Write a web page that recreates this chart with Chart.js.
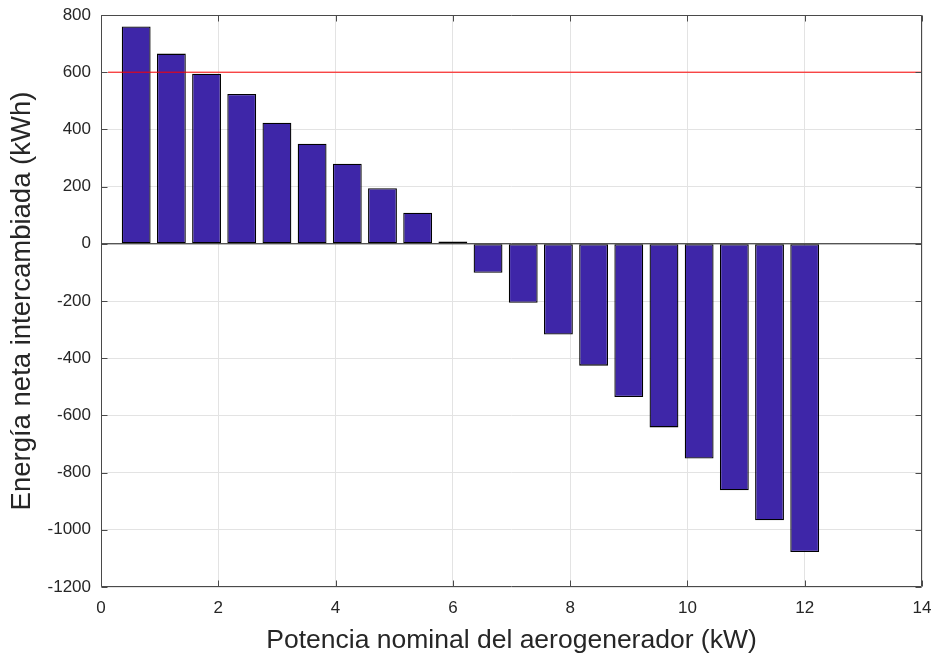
<!DOCTYPE html>
<html lang="es">
<head>
  <meta charset="UTF-8">
  <title>Energía neta intercambiada</title>
  <script src="https://cdn.jsdelivr.net/npm/chart.js"></script>
  <style>
    body {
      margin: 0;
      background-color: #ffffff;
    }
  </style>
</head>
<body>
  <canvas id="energiaChart" width="934" height="657"></canvas>

  <script>
    // Potencia nominal (kW) y energia neta (kWh)
    const potencia = [0.6, 1.2, 1.8, 2.4, 3.0, 3.6, 4.2, 4.8, 5.4, 6.0,
                      6.6, 7.2, 7.8, 8.4, 9.0, 9.6, 10.2, 10.8, 11.4, 12.0];
    const energia = [760, 665, 595, 524, 423, 350, 280, 194, 109, 8,
                     -101, -206, -317, -426, -536, -642, -751, -862, -967, -1078];

    // Linea roja de referencia
    const limite = 600;
    const limiteDesde = 0.12;

    const xTicks = [0, 2, 4, 6, 8, 10, 12, 14];
    const yTicks = [-1200, -1000, -800, -600, -400, -200, 0, 200, 400, 600, 800];

    const textColor = "#262626";
    const fontFamily = "Arial, 'Liberation Sans', Helvetica, sans-serif";

    // caja de ejes con marcas hacia dentro (estilo MATLAB)
    const marcoPlugin = {
      id: "marco",
      afterDatasetsDraw(chart) {
        const { ctx, chartArea, scales } = chart;
        const l = Math.round(chartArea.left) + 0.5;
        const r = Math.round(chartArea.right) - 0.5;
        const t = Math.round(chartArea.top) + 0.5;
        const b = Math.round(chartArea.bottom) - 0.5;
        const len = 6;
        ctx.save();
        ctx.strokeStyle = "#4a4a4a";
        ctx.lineWidth = 1;
        ctx.beginPath();
        ctx.rect(l, t, r - l, b - t);
        xTicks.forEach(v => {
          const px = Math.round(scales.x.getPixelForValue(v)) + 0.5;
          ctx.moveTo(px, b);
          ctx.lineTo(px, b - len);
          ctx.moveTo(px, t);
          ctx.lineTo(px, t + len);
        });
        yTicks.forEach(v => {
          const py = Math.round(scales.y.getPixelForValue(v)) + 0.5;
          ctx.moveTo(l, py);
          ctx.lineTo(l + len, py);
          ctx.moveTo(r, py);
          ctx.lineTo(r - len, py);
        });
        ctx.stroke();
        ctx.restore();
      }
    };

    new Chart(document.getElementById("energiaChart"), {
      type: "bar",
      data: {
        datasets: [
          {
            type: "line",
            data: [{ x: limiteDesde, y: limite }, { x: 14, y: limite }],
            borderColor: "#ff0000",
            borderWidth: 1,
            pointRadius: 0,
            order: 0
          },
          {
            type: "line",
            data: [{ x: 0, y: 0 }, { x: 14, y: 0 }],
            borderColor: "#1a1a1a",
            borderWidth: 1,
            pointRadius: 0,
            order: 1
          },
          {
            type: "bar",
            data: potencia.map((p, i) => ({ x: p, y: energia[i] })),
            backgroundColor: "#3e26a8",
            borderColor: "#000000",
            borderWidth: 1.3,
            borderSkipped: false,
            categoryPercentage: 0.82,
            barPercentage: 1.0,
            order: 2
          }
        ]
      },
      options: {
        responsive: false,
        animation: false,
        layout: {
          padding: { top: 15, right: 12, bottom: 0, left: 0 }
        },
        plugins: {
          legend: { display: false },
          tooltip: { enabled: false }
        },
        scales: {
          x: {
            type: "linear",
            min: 0,
            max: 14,
            offset: false,
            grid: { offset: false, color: "#e3e3e3", drawTicks: false },
            border: { display: false },
            afterBuildTicks: scale => { scale.ticks = xTicks.map(v => ({ value: v })); },
            afterFit: scale => {
              scale.height = 70;
              scale.paddingLeft = 0;
              scale.paddingRight = 0;
            },
            ticks: {
              padding: 11,
              maxRotation: 0,
              color: textColor,
              font: { family: fontFamily, size: 17 },
              callback: v => String(v)
            },
            title: {
              display: true,
              text: "Potencia nominal del aerogenerador (kW)",
              color: textColor,
              font: { family: fontFamily, size: 26.5 },
              padding: { top: 0, bottom: 0 }
            }
          },
          y: {
            type: "linear",
            min: -1200,
            max: 800,
            grid: { color: "#e3e3e3", drawTicks: false },
            border: { display: false },
            afterBuildTicks: scale => { scale.ticks = yTicks.map(v => ({ value: v })); },
            afterFit: scale => {
              scale.width = 101;
              scale.paddingTop = 0;
              scale.paddingBottom = 0;
            },
            ticks: {
              padding: 10,
              color: textColor,
              font: { family: fontFamily, size: 17 },
              callback: v => String(v)
            },
            title: {
              display: true,
              text: "Energía neta intercambiada (kWh)",
              color: textColor,
              font: { family: fontFamily, size: 27.5 },
              padding: { top: 6, bottom: 0 }
            }
          }
        }
      },
      plugins: [marcoPlugin]
    });
  </script>
</body>
</html>
